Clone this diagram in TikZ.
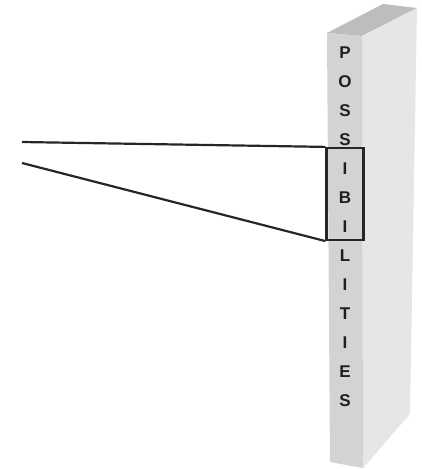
\documentclass[tikz,border=0pt]{standalone}
\usepackage{fontspec}
\setmainfont{Liberation Sans}
\definecolor{topface}{HTML}{BDBDBD}
\definecolor{frontface}{HTML}{D3D3D3}
\definecolor{sideface}{HTML}{E6E6E6}
\definecolor{lineink}{HTML}{262626}
\begin{document}
\begin{tikzpicture}[x=1pt,y=-1pt,
  letter/.style={font=\bfseries\fontsize{17}{20}\selectfont, text=black!88, inner sep=0pt, anchor=center},
  frame/.style={draw=lineink, line width=2.2pt},
  ray/.style={draw=lineink, line width=2.2pt}]
\useasboundingbox (0,0) rectangle (421,469);
% slab
\fill[topface] (327,33) -- (383,4) -- (417,8) -- (362,36) -- cycle;
\fill[sideface] (362,36) -- (417,8) -- (410,414) -- (363,468) -- cycle;
\fill[frontface] (327,33) -- (362,36) -- (363,468) -- (330,462) -- cycle;
% letters
\foreach \ch [count=\i from 0] in {P,O,S,S,I,B,I,L,I,T,I,E,S} {
  \node[letter] (l\i) at (345,52.5+29*\i) {\ch};
}
% box
\node[frame, minimum width=37pt, minimum height=92pt, inner sep=0pt] (box) at (345,194) {};
\coordinate (a) at (22,142);
\coordinate (b) at (22,163);
\draw[ray] (a) -- (box.north west);
\draw[ray] (b) -- (box.south west);
\end{tikzpicture}
\end{document}
